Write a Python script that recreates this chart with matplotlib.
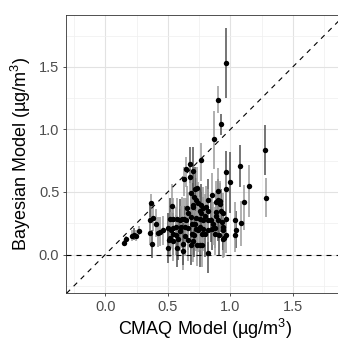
import matplotlib
matplotlib.use("Agg")
import matplotlib.pyplot as plt
from matplotlib.ticker import MultipleLocator

plt.rcParams['font.family'] = ['Liberation Sans', 'DejaVu Sans']
plt.rcParams['mathtext.fontset'] = 'custom'
plt.rcParams['mathtext.rm'] = 'Liberation Sans'
plt.rcParams['mathtext.it'] = 'Liberation Sans'

# (x, y, lower, upper, shade)
pts = [
    (0.152, 0.093, 0.07, 0.12, 'L'), (0.165, 0.122, 0.09, 0.15, 'L'),
    (0.216, 0.150, 0.11, 0.20, 'L'), (0.232, 0.160, 0.12, 0.21, 'D'),
    (0.242, 0.146, 0.11, 0.20, 'L'), (0.266, 0.192, 0.16, 0.23, 'L'),
    (0.362, 0.413, 0.29, 0.48, 'L'), (0.360, 0.274, 0.17, 0.40, 'D'),
    (0.382, 0.294, 0.19, 0.40, 'L'), (0.360, 0.176, 0.08, 0.30, 'L'),
    (0.376, 0.085, -0.03, 0.20, 'D'), (0.408, 0.248, 0.14, 0.36, 'L'),
    (0.421, 0.176, 0.06, 0.30, 'L'), (0.440, 0.180, 0.07, 0.30, 'L'),
    (0.461, 0.195, 0.08, 0.31, 'L'), (0.501, 0.213, 0.09, 0.33, 'D'),
    (0.530, 0.387, 0.24, 0.56, 'L'), (0.514, 0.288, 0.12, 0.45, 'D'),
    (0.540, 0.288, 0.10, 0.45, 'L'), (0.506, 0.115, -0.02, 0.28, 'L'),
    (0.501, 0.053, -0.07, 0.20, 'D'), (0.520, 0.136, -0.02, 0.30, 'L'),
    (0.541, 0.168, 0.00, 0.33, 'D'), (0.528, 0.195, 0.05, 0.34, 'L'),
    (0.568, 0.155, 0.00, 0.32, 'L'), (0.584, 0.125, -0.04, 0.28, 'D'),
    (0.595, 0.189, 0.03, 0.36, 'L'), (0.568, 0.221, 0.06, 0.38, 'L'),
    (0.541, 0.211, 0.05, 0.37, 'L'), (0.573, 0.051, -0.10, 0.20, 'D'),
    (0.541, 0.109, -0.05, 0.26, 'L'), (0.573, 0.288, 0.12, 0.45, 'L'),
    (0.595, 0.275, 0.10, 0.44, 'D'), (0.611, 0.288, 0.12, 0.46, 'L'),
    (0.627, 0.283, 0.11, 0.45, 'L'), (0.605, 0.221, 0.05, 0.39, 'L'),
    (0.637, 0.224, 0.06, 0.39, 'D'), (0.664, 0.211, 0.04, 0.38, 'L'),
    (0.619, 0.029, -0.12, 0.18, 'L'), (0.621, 0.085, -0.08, 0.25, 'D'),
    (0.637, 0.152, -0.01, 0.32, 'L'), (0.664, 0.115, -0.05, 0.29, 'L'),
    (0.688, 0.080, -0.08, 0.25, 'D'), (0.701, 0.109, -0.06, 0.28, 'L'),
    (0.733, 0.080, -0.09, 0.25, 'L'), (0.755, 0.080, -0.10, 0.26, 'D'),
    (0.776, 0.080, -0.10, 0.25, 'L'), (0.691, 0.168, 0.00, 0.34, 'L'),
    (0.712, 0.155, -0.02, 0.33, 'D'), (0.728, 0.208, 0.03, 0.38, 'L'),
    (0.691, 0.243, 0.07, 0.42, 'L'), (0.715, 0.248, 0.07, 0.42, 'D'),
    (0.744, 0.195, 0.02, 0.37, 'L'), (0.771, 0.168, -0.01, 0.35, 'L'),
    (0.795, 0.168, -0.02, 0.35, 'D'), (0.781, 0.205, 0.03, 0.38, 'L'),
    (0.755, 0.221, 0.04, 0.40, 'L'), (0.824, 0.195, 0.02, 0.37, 'L'),
    (0.851, 0.208, 0.04, 0.38, 'D'), (0.877, 0.216, 0.05, 0.38, 'L'),
    (0.824, 0.016, -0.15, 0.18, 'D'), (0.800, 0.307, 0.13, 0.48, 'L'),
    (0.781, 0.280, 0.10, 0.46, 'L'), (0.755, 0.347, 0.17, 0.52, 'D'),
    (0.765, 0.328, 0.15, 0.50, 'L'), (0.728, 0.296, 0.12, 0.47, 'L'),
    (0.701, 0.395, 0.22, 0.57, 'D'), (0.701, 0.376, 0.20, 0.55, 'L'),
    (0.656, 0.368, 0.19, 0.55, 'L'), (0.664, 0.328, 0.15, 0.50, 'L'),
    (0.688, 0.301, 0.13, 0.47, 'D'), (0.648, 0.275, 0.10, 0.45, 'L'),
    (0.755, 0.288, 0.11, 0.46, 'L'), (0.821, 0.275, 0.10, 0.45, 'L'),
    (0.848, 0.275, 0.10, 0.45, 'D'), (0.861, 0.248, 0.08, 0.42, 'L'),
    (0.888, 0.307, 0.14, 0.48, 'L'), (0.899, 0.275, 0.11, 0.44, 'D'),
    (0.931, 0.261, 0.10, 0.42, 'L'), (0.968, 0.285, 0.13, 0.44, 'L'),
    (0.941, 0.221, 0.06, 0.38, 'L'), (0.909, 0.157, 0.00, 0.32, 'D'),
    (0.941, 0.123, -0.03, 0.28, 'L'), (0.968, 0.160, 0.01, 0.31, 'L'),
    (0.877, 0.168, 0.00, 0.34, 'L'), (0.941, 0.195, 0.04, 0.35, 'D'),
    (0.947, 0.136, -0.02, 0.29, 'L'), (0.888, 0.341, 0.17, 0.51, 'L'),
    (0.925, 0.349, 0.18, 0.52, 'D'), (0.941, 0.328, 0.16, 0.49, 'L'),
    (0.920, 0.403, 0.24, 0.57, 'L'), (0.904, 0.435, 0.26, 0.60, 'D'),
    (0.888, 0.419, 0.25, 0.59, 'L'), (0.915, 0.427, 0.26, 0.59, 'L'),
    (0.904, 0.509, 0.33, 0.69, 'L'), (0.851, 0.475, 0.30, 0.65, 'L'),
    (0.824, 0.432, 0.26, 0.60, 'D'), (0.808, 0.376, 0.20, 0.55, 'L'),
    (0.821, 0.349, 0.17, 0.52, 'L'), (0.781, 0.368, 0.19, 0.54, 'L'),
    (0.763, 0.392, 0.22, 0.56, 'D'), (0.739, 0.408, 0.23, 0.58, 'L'),
    (0.723, 0.435, 0.26, 0.61, 'L'), (0.715, 0.523, 0.35, 0.70, 'D'),
    (0.731, 0.528, 0.36, 0.70, 'L'), (0.688, 0.488, 0.31, 0.66, 'L'),
    (0.709, 0.461, 0.29, 0.64, 'L'), (0.762, 0.757, 0.59, 0.89, 'L'),
    (0.675, 0.723, 0.57, 0.86, 'D'), (0.643, 0.680, 0.54, 0.78, 'L'),
    (0.699, 0.664, 0.50, 0.86, 'D'), (0.675, 0.621, 0.48, 0.74, 'L'),
    (0.627, 0.603, 0.47, 0.70, 'L'), (0.962, 0.656, 0.33, 0.83, 'D'),
    (0.994, 0.578, 0.33, 0.82, 'D'), (0.962, 0.520, 0.30, 0.67, 'L'),
    (1.077, 0.706, 0.54, 0.875, 'D'), (1.147, 0.546, 0.30, 0.715, 'L'),
    (1.112, 0.418, 0.20, 0.555, 'L'), (1.088, 0.250, 0.07, 0.43, 'L'),
    (1.048, 0.200, 0.05, 0.35, 'D'), (1.035, 0.160, 0.02, 0.30, 'L'),
    (1.035, 0.275, 0.12, 0.42, 'L'), (1.277, 0.837, 0.634, 1.034, 'D'),
    (1.282, 0.453, 0.30, 0.608, 'L'), (0.866, 0.920, 0.685, 1.149, 'L'),
    (0.922, 1.040, 0.955, 1.123, 'D'), (0.904, 1.237, 1.128, 1.347, 'L'),
    (0.963, 1.533, 1.25, 1.81, 'D'),
]
cmaq = [p[0] for p in pts]
bayes = [p[1] for p in pts]
lower = [p[2] for p in pts]
upper = [p[3] for p in pts]
shade = [p[4] for p in pts]

x_ticks = [0.0, 0.5, 1.0, 1.5]
y_ticks = [0.0, 0.5, 1.0, 1.5]

fig = plt.figure(figsize=(3.38, 3.41), dpi=100)
ax = fig.add_axes([66.3 / 338, 47.7 / 341, 278.0 / 338, 278.3 / 341])
ax.set_xlim(-0.312, 1.912)
ax.set_ylim(-0.31, 1.915)

ax.xaxis.set_minor_locator(MultipleLocator(0.25))
ax.yaxis.set_minor_locator(MultipleLocator(0.25))
ax.grid(which='major', color='#e2e2e2', lw=0.8)
ax.grid(which='minor', color='#efefef', lw=0.5)
ax.set_axisbelow(True)
ax.tick_params(which='minor', length=0)
ax.tick_params(which='major', length=2.5, width=0.6, color='#333333',
               labelsize=10.5, labelcolor='#4d4d4d', pad=2.5)
ax.set_xticks(x_ticks)
ax.set_yticks(y_ticks)
ax.set_xticklabels([f"{t:.1f}" for t in x_ticks])
ax.set_yticklabels([f"{t:.1f}" for t in y_ticks])
for s in ax.spines.values():
    s.set_color('#333333')
    s.set_linewidth(0.6)

cmap = {'D': '#505050', 'L': '#9a9a9a'}
ax.vlines(cmaq, lower, upper, colors=[cmap[s] for s in shade], lw=1.1, zorder=2)
ax.plot(cmaq, bayes, 'o', color='black', ms=3.9, mew=0, zorder=3)

ax.axline((0, 0), slope=1, color='black', lw=0.8, ls=(0, (4.5, 4.5)), zorder=4)
ax.axhline(0, color='black', lw=0.8, ls=(0, (4.5, 4.5)), zorder=4)

ax.set_xlabel('CMAQ Model (µg/m$^{3}$)', fontsize=13, labelpad=2)
ax.set_ylabel('Bayesian Model (µg/m$^{3}$)', fontsize=13, labelpad=4)

fig.savefig('out.png', dpi=100)
